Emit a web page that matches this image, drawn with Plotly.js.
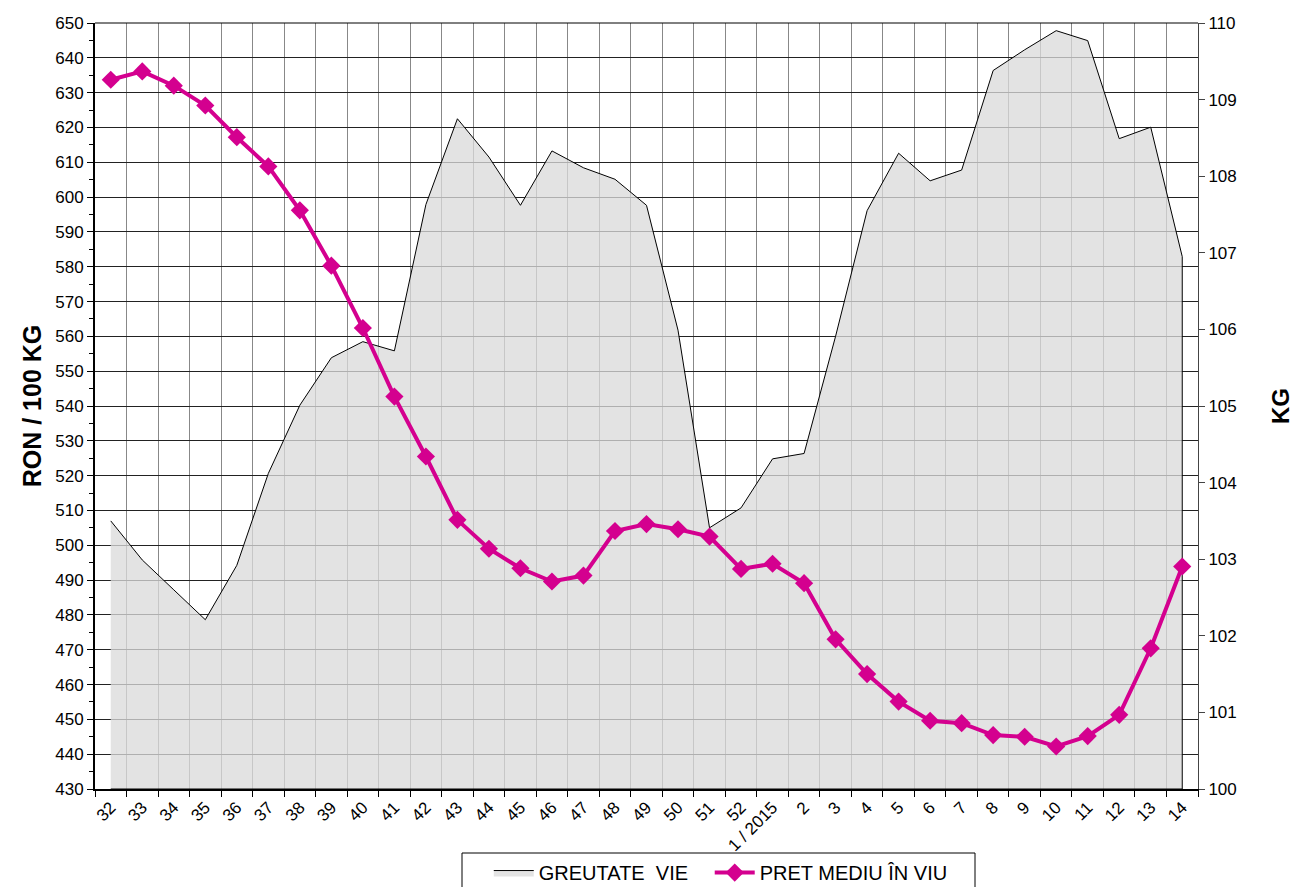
<!DOCTYPE html>
<html>
<head>
<meta charset="utf-8">
<script src="https://cdn.plot.ly/plotly-3.0.1.min.js"></script>
<style>html,body{margin:0;padding:0;background:#fff;}#chart{width:1294px;height:887px;}</style>
</head>
<body>
<div id="chart"></div>
<script>
// Categories (weeks)
const weeks = ['32','33','34','35','36','37','38','39','40','41','42','43','44','45','46','47','48','49','50','51','52','1 / 2015','2','3','4','5','6','7','8','9','10','11','12','13','14'];
// GREUTATE VIE (KG, right axis)
const greutate = [103.50,102.99,102.60,102.21,102.92,104.12,105.01,105.63,105.84,105.72,107.63,108.75,108.25,107.62,108.33,108.11,107.96,107.62,105.99,103.41,103.67,104.31,104.38,105.91,107.55,108.30,107.94,108.08,109.38,109.65,109.90,109.77,108.49,108.64,106.95];
// PRET MEDIU IN VIU (RON / 100 KG, left axis)
const pret = [633.7,636.1,632.0,626.3,617.2,608.8,596.2,580.3,562.4,542.7,525.5,507.3,499.0,493.4,489.6,491.3,504.1,506.1,504.6,502.5,493.2,494.7,489.1,473.0,463.0,455.1,449.6,448.9,445.5,445.0,442.2,445.2,451.3,470.4,493.9];

const kgMin = 100, kgMax = 110;
const ronMin = 430, ronMax = 650;

// closed polygon for the area (baseline at axis minimum)
const areaX = weeks.concat([weeks[weeks.length-1], weeks[0]]);
const areaY = greutate.concat([kgMin, kgMin]);

const traces = [
  {
    x: areaX, y: areaY, yaxis: 'y', type: 'scatter', mode: 'lines',
    fill: 'toself', fillcolor: 'rgba(218,218,218,0.77)',
    line: {color: '#000', width: 1},
    name: 'GREUTATE\u00a0\u00a0VIE\u00a0\u00a0\u00a0', hoverinfo: 'skip'
  },
  {
    x: weeks, y: pret, yaxis: 'y2', type: 'scatter', mode: 'lines+markers',
    line: {color: '#d4008f', width: 4},
    marker: {symbol: 'diamond', size: 14, color: '#d4008f'},
    name: 'PRET MEDIU ÎN VIU'
  }
];

const layout = {
  width: 1294, height: 887,
  margin: {l: 95, r: 96, t: 23, b: 98, autoexpand: false},
  paper_bgcolor: '#fff', plot_bgcolor: '#fff',
  font: {family: 'Liberation Sans, Arial, sans-serif', size: 16, color: '#000'},
  showlegend: true,
  legend: {
    orientation: 'h', x: 0.357, xanchor: 'left', y: -0.0836, yanchor: 'top',
    borderwidth: 0, bgcolor: 'rgba(0,0,0,0)',
    font: {size: 20, color: '#000'},
    traceorder: 'normal', itemwidth: 40
  },
  xaxis: {
    type: 'category', range: [-0.5, 34.5], tickson: 'boundaries',
    showgrid: true, gridcolor: '#888', gridwidth: 1,
    showline: true, linecolor: '#000', linewidth: 2,
    ticks: 'outside', ticklen: 6, tickcolor: '#000',
    tickangle: -45, tickfont: {size: 17}, zeroline: false, fixedrange: true
  },
  yaxis: {
    side: 'right', range: [kgMin, kgMax], dtick: 1,
    showgrid: false, zeroline: false,
    showline: true, linecolor: '#444', linewidth: 1,
    ticks: 'outside', ticklen: 6, tickcolor: '#444',
    tickfont: {size: 17},
    title: {text: 'KG', font: {size: 24, weight: 'bold'}, standoff: 38}
  },
  yaxis2: {
    overlaying: 'y', side: 'left', range: [ronMin, ronMax], dtick: 10,
    showgrid: true, gridcolor: '#222', gridwidth: 1, zeroline: false,
    showline: true, linecolor: '#000', linewidth: 2,
    ticks: 'outside', ticklen: 6, tickcolor: '#000',
    minor: {dtick: 5, ticks: 'outside', ticklen: 4, tickcolor: '#000', showgrid: false},
    tickfont: {size: 17},
    title: {text: 'RON / 100 KG', font: {size: 25, weight: 'bold'}, standoff: 6}
  },
  shapes: [
    {type: 'line', xref: 'paper', yref: 'paper', x0: 0, x1: 1, y0: 1, y1: 1, line: {color: '#000', width: 1}},
    {type: 'rect', xref: 'paper', yref: 'paper', x0: (462-95)/1103, x1: (975-95)/1103, y0: (789-853)/766, y1: (789-900)/766, line: {color: '#000', width: 1}, fillcolor: 'rgba(0,0,0,0)', layer: 'below'}
  ]
};

Plotly.newPlot('chart', traces, layout, {displayModeBar: false, staticPlot: true});
</script>
</body>
</html>
